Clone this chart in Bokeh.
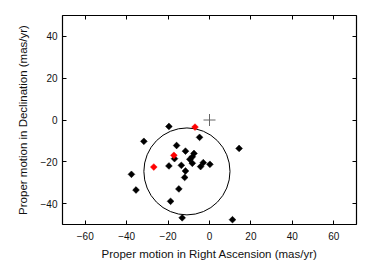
import numpy as np
from bokeh.plotting import figure
from bokeh.models import LinearAxis, FixedTicker, Range1d
from bokeh.embed import file_html
from bokeh.resources import INLINE

# Black diamonds (proper motions, mas/yr)
ra_black = [-19.6, -31.7, -15.9, -4.8, 14.3, -11.6, -7.5, -8.3, -9.5, -8.3, -16.9, -19.6,
            -13.6, -11.6, -12.0, -3.0, -4.3, 0.2, -37.7, -35.5, -14.8, -18.8, -13.2, 11.1]
dec_black = [-3.1, -10.2, -12.2, -8.3, -13.6, -14.9, -16.0, -17.6, -18.8, -20.7, -18.5, -22.0,
             -21.7, -24.4, -27.5, -20.4, -22.3, -21.2, -26.0, -33.5, -33.0, -38.9, -46.8, -47.7]
# Red diamonds
ra_red = [-7.0, -17.2, -26.9]
dec_red = [-3.4, -16.9, -22.5]
# Reference cross
ra_cross = [0.0]
dec_cross = [0.0]
# Circle
circle_ra = [-10.9]
circle_dec = [-24.6]
circle_radius = [20.8]

x_ticks = [-60, -40, -20, 0, 20, 40, 60]
y_ticks = [-40, -20, 0, 20, 40]

FONT = "Liberation Sans"

p = figure(width=374, height=262, output_backend="svg", toolbar_location=None,
           x_range=Range1d(-71, 71), y_range=Range1d(-50, 50),
           min_border_left=62, min_border_right=18, min_border_top=15, min_border_bottom=38,
           x_axis_label="Proper motion in Right Ascension (mas/yr)",
           y_axis_label="Proper motion in Declination (mas/yr)")
p.xgrid.visible = False
p.ygrid.visible = False
p.outline_line_color = "black"
p.outline_line_width = 1.2
p.outline_line_alpha = 1.0

for ax, ticks in ((p.xaxis[0], x_ticks), (p.yaxis[0], y_ticks)):
    ax.ticker = FixedTicker(ticks=ticks)
    ax.minor_tick_line_color = None
    ax.major_tick_in = 4
    ax.major_tick_out = 0
    ax.axis_line_color = None
    ax.major_tick_line_color = "black"
    ax.major_label_text_font = FONT
    ax.major_label_text_font_size = "10px"
    ax.major_label_text_color = "#111111"
    ax.axis_label_text_font = FONT
    ax.axis_label_text_font_size = "11.5px"
    ax.axis_label_text_font_style = "normal"
    ax.axis_label_text_color = "#111111"

p.xaxis[0].major_label_standoff = 7
p.xaxis[0].axis_label_standoff = 5
p.yaxis[0].major_label_standoff = 5
p.yaxis[0].axis_label_standoff = 9

top = LinearAxis(ticker=FixedTicker(ticks=x_ticks))
right = LinearAxis(ticker=FixedTicker(ticks=y_ticks))
for ax in (top, right):
    ax.major_label_text_font_size = "1px"
    ax.major_label_text_color = None
    ax.major_label_text_alpha = 0
    ax.major_label_standoff = 0
    ax.minor_tick_line_color = None
    ax.major_tick_in = 4
    ax.major_tick_out = 0
    ax.axis_line_color = None
p.add_layout(top, "above")
p.add_layout(right, "right")

p.ellipse(x=circle_ra, y=circle_dec, width=[2 * r for r in circle_radius],
          height=[2 * r for r in circle_radius], fill_color=None,
          line_color="black", line_width=1)
p.scatter(x=ra_cross, y=dec_cross, marker="cross", size=12, line_color="#666666", line_width=1)
p.scatter(x=ra_black, y=dec_black, marker="square", angle=np.pi / 4, size=4.8,
          fill_color="black", line_color="black", line_width=0.5)
p.scatter(x=ra_red, y=dec_red, marker="square", angle=np.pi / 4, size=4.8,
          fill_color="#ff0000", line_color="#ff0000", line_width=0.5)

open("out.html", "w").write(file_html(p, INLINE))
